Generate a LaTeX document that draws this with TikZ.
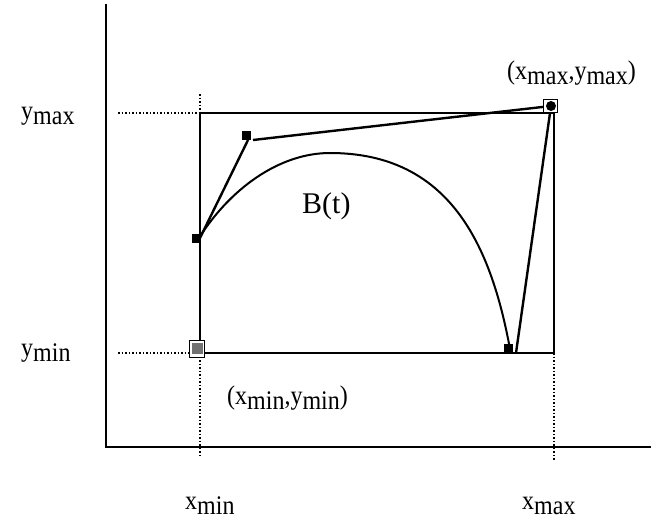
\documentclass[tikz,border=0pt]{standalone}
\usepackage{fontspec}
\setmainfont{Liberation Serif}
\newcommand\lowr[1]{\raisebox{-5pt}{#1}}
\newcommand\tall[1]{\scalebox{1}[1.12]{#1}}
\tikzset{
  axisline/.style={line width=2.5pt},
  boxline/.style={line width=1.4pt},
  guide/.style={line width=1.5pt, dotted},
  ctrl/.style={line width=2.4pt},
  curveline/.style={line width=2pt},
  ptmark/.style={fill=black, minimum size=9pt, inner sep=0pt, draw=none, rectangle},
  lbl/.style={inner sep=0pt, anchor=base west, font=\fontsize{24pt}{26pt}\selectfont},
}
\begin{document}
\begin{tikzpicture}[x=1pt,y=-1pt]
\useasboundingbox (0,0) rectangle (651,522);
% axes
\coordinate (ytop) at (106,4);
\coordinate (orig) at (106,447);
\coordinate (xend) at (651,447);
\draw[axisline] (ytop) -- (orig) -- (xend);
% guides
\coordinate (gy1) at (118,113);
\coordinate (gy0) at (118,353);
\coordinate (bl) at (200,353);
\coordinate (tl) at (200,113);
\coordinate (tr) at (554,113);
\coordinate (br) at (554,353);
\coordinate (vtop) at (200,94);
\coordinate (vbot) at (200,458);
\coordinate (rtop) at (554,104);
\coordinate (rbot) at (554,460);
\draw[guide] (gy1) -- (tl);
\draw[guide] (gy0) -- (bl);
\draw[guide] (vtop) -- (vbot);
\draw[guide] (br) -- (rbot);
\draw[boxline] (tl) -- (tr);
\draw[boxline] (rtop) -- (br);
\draw[boxline] (tl) -- (bl) -- (br);
% control polygon
\coordinate (p0) at (199,240);
\coordinate (p1a) at (248,140);
\coordinate (p1b) at (253,140);
\coordinate (p2) at (551,106);
\coordinate (p3) at (516,353);
\draw[ctrl] (p0) -- (p1a);
\draw[ctrl] (p1b) -- (p2) -- (p3);
% curve
\coordinate (c0) at (199,238);
\coordinate (cpk) at (330,153);
\coordinate (c1) at (510,349);
\draw[curveline] (c0) .. controls (230,189) and (279,153) .. (cpk)
                      .. controls (450,153) and (491,246) .. (c1);
% markers
\node[ptmark] (m0) at (196,238) {};
\node[ptmark] (m1) at (246,135) {};
\node[ptmark] (m2) at (508,348) {};
\node[draw=black, line width=0.9pt, fill=white, minimum width=14pt, minimum height=13pt, inner sep=0pt] (m3) at (550,106) {};
\node[circle, fill=black, minimum size=10pt, inner sep=0pt] (m3c) at (551,106) {};
\node[draw=black, line width=0.9pt, fill=white, minimum width=15pt, minimum height=17pt, inner sep=0pt] (m4) at (197,349) {};
\node[fill=black!55, minimum width=11pt, minimum height=11pt, inner sep=0pt] (m4c) at (197,348) {};
% labels
\node[lbl] (ymax) at (21,119) {\tall{y\lowr{max}}};
\node[lbl] (ymin) at (21,356) {\tall{y\lowr{min}}};
\node[lbl] (xmin) at (185,509) {\tall{x\lowr{min}}};
\node[lbl] (xmax) at (522,509) {\tall{x\lowr{max}}};
\node[lbl] (pmax) at (507,79) {\tall{(x\lowr{max},y\lowr{max})}};
\node[lbl] (pmin) at (227,404) {\tall{(x\lowr{min},y\lowr{min})}};
\node[lbl, font=\fontsize{30pt}{32pt}\selectfont] (bt) at (302,213) {B(t)};
\end{tikzpicture}
\end{document}
